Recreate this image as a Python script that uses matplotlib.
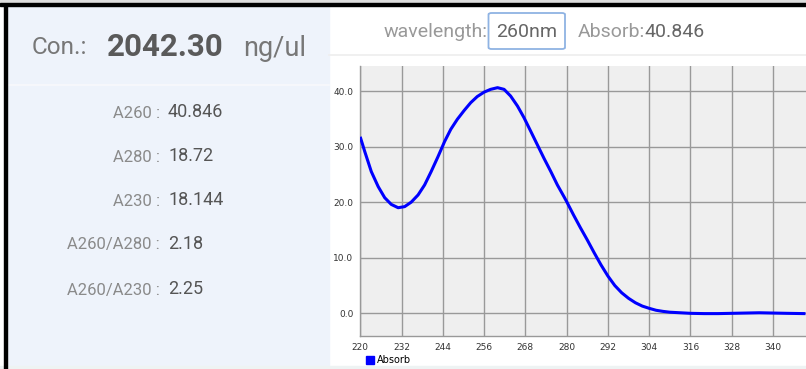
import matplotlib.pyplot as plt
from matplotlib.patches import Rectangle, FancyBboxPatch
from matplotlib.lines import Line2D

plt.rcParams['font.family'] = ['Roboto', 'DejaVu Sans']

# spectrum (wavelength nm, absorbance)
wavelength = [220.1, 221.3, 223.2, 225.2, 227.1, 229.0, 231.0, 232.9, 234.8, 236.8,
              238.7, 240.6, 242.6, 244.5, 246.3, 248.2, 250.2, 252.1, 254.0, 256.0,
              257.9, 259.9, 261.8, 263.7, 265.7, 267.6, 269.6, 271.5, 273.4, 275.4,
              277.3, 279.3, 280.0, 282, 284, 286, 288, 290, 292, 294, 296, 298, 300,
              302, 304, 306, 308, 310, 313, 316, 320, 324, 328, 332, 336, 340, 344, 349]
absorb = [31.5, 29.1, 25.5, 22.8, 20.8, 19.6, 19.0, 19.2, 20.0, 21.3,
          23.1, 25.5, 28.2, 30.9, 33.1, 34.9, 36.5, 37.9, 39.0, 39.8,
          40.3, 40.6, 40.3, 39.1, 37.3, 35.2, 32.7, 30.3, 27.9, 25.5,
          23.1, 20.9, 20.1, 17.7, 15.4, 13.2, 10.9, 8.7, 6.7, 5.0, 3.7, 2.7, 1.9,
          1.3, 0.9, 0.55, 0.35, 0.2, 0.1, 0.0, -0.05, -0.05, 0.0, 0.05, 0.1, 0.05, 0.0, -0.05]

x_ticks = [220, 232, 244, 256, 268, 280, 292, 304, 316, 328, 340]
y_ticks = [0, 10, 20, 30, 40]

conc = '2042.30'
unit = 'ng/ul'
row_labels = ['A260 :', 'A280 :', 'A230 :', 'A260/A280 :', 'A260/A230 :']
row_values = ['40.846', '18.72', '18.144', '2.18', '2.25']
sel_wl = '260nm'
sel_abs = '40.846'

W, H = 806, 369
fig = plt.figure(figsize=(W / 100, H / 100), dpi=100)


def fx(px):
    return px / W


def fy(py):
    return 1 - py / H


# panels and frame
fig.patches.append(Rectangle((0, 0), 1, 1, transform=fig.transFigure, color='white', zorder=-5))
fig.patches.append(Rectangle((fx(7), fy(366)), fx(322), 360 / H, transform=fig.transFigure,
                             color='#eef3fb', zorder=-4))
fig.patches.append(Rectangle((0, fy(369)), 1, 3 / H, transform=fig.transFigure,
                             color='#eef3f3', zorder=-4))
fig.patches.append(Rectangle((0, fy(3)), 1, 3 / H, transform=fig.transFigure,
                             color='#dddddd', zorder=-3))
fig.patches.append(Rectangle((0, fy(6)), 1, 3 / H, transform=fig.transFigure,
                             color='black', zorder=5))
fig.patches.append(Rectangle((fx(4), 0), 3 / W, fy(4), transform=fig.transFigure,
                             color='black', zorder=5))
# faint separators
fig.lines.append(Line2D([fx(7), fx(329)], [fy(85), fy(85)], transform=fig.transFigure,
                        color='#f8f9fb', lw=1.2))
fig.lines.append(Line2D([fx(329), 1], [fy(55), fy(55)], transform=fig.transFigure,
                        color='#eeeeee', lw=1.2))

# concentration header
fig.text(fx(32), fy(48), 'Con.:', fontsize=17.5, color='#777777', va='center')
fig.text(fx(107), fy(47), conc, fontsize=22.5, fontweight='bold', color='#5a5a5a', va='center')
fig.text(fx(243), fy(48), unit, fontsize=19.5, color='#777777', va='center')

# ratio rows
row_y = [113, 157, 201, 245, 290]
for lab, val, y in zip(row_labels, row_values, row_y):
    fig.text(fx(160), fy(y), lab, fontsize=12, color='#8a8a8a', va='center', ha='right')
    fig.text(fx(168), fy(y - 1), val, fontsize=13, color='#555555', va='center', ha='left')

# wavelength selector
fig.text(fx(384), fy(32), 'wavelength:', fontsize=14, color='#999999', va='center')
fig.patches.append(FancyBboxPatch((fx(488.5), fy(49)), fx(76.5), 36 / H,
                                  boxstyle='round,pad=0,rounding_size=0.004',
                                  transform=fig.transFigure, fc='white', ec='#8fb3e3', lw=1.3))
fig.text(fx(527), fy(32), sel_wl, fontsize=14, color='#666666', va='center', ha='center')
fig.text(fx(578), fy(32), 'Absorb:', fontsize=14, color='#999999', va='center')
fig.text(fx(644), fy(32), sel_abs, fontsize=14, color='#666666', va='center')

# spectrum chart
ax = fig.add_axes([fx(360.3), fy(336), fx(447.1), 270 / H])
ax.set_facecolor('#efefef')
ax.plot(wavelength, absorb, color='#0000ff', lw=2.2, solid_joinstyle='round', zorder=3)
ax.set_xlim(220, 350)
ax.set_ylim(-4.08, 44.5)
ax.set_xticks(x_ticks)
ax.set_yticks(y_ticks)
ax.set_yticklabels([f'{v:.1f}' for v in y_ticks])
ax.grid(True, color='#999999', lw=1.0)
ax.set_axisbelow(True)
ax.tick_params(length=0, labelsize=6.5, labelcolor='#333333', pad=5)
for lbl in ax.get_xticklabels() + ax.get_yticklabels():
    lbl.set_family('DejaVu Sans')
for side in ['top', 'right']:
    ax.spines[side].set_visible(False)
for side in ['left', 'bottom']:
    ax.spines[side].set_color('#999999')
    ax.spines[side].set_linewidth(1.0)

handle = Line2D([], [], ls='', marker='s', markersize=6, color='#0000ff', label='Absorb')
ax.legend(handles=[handle], loc='upper left', bbox_to_anchor=(0.011, -0.072),
          bbox_transform=ax.transAxes, frameon=False,
          prop={'family': 'DejaVu Sans', 'size': 7},
          handlelength=0.9, handletextpad=0.35, borderaxespad=0, borderpad=0)

fig.savefig('out.png', dpi=100)
